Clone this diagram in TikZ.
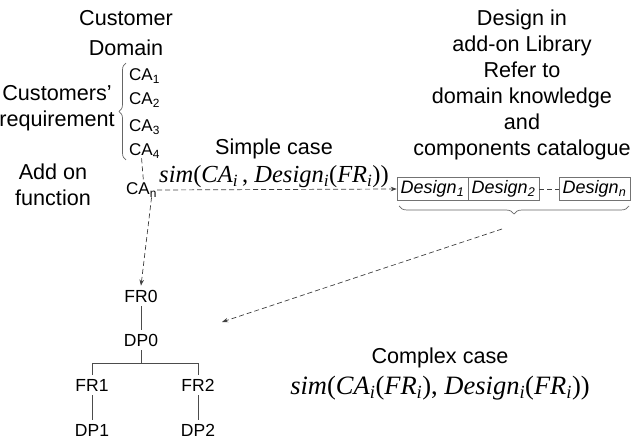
\documentclass[tikz,border=0pt]{standalone}
\usepackage{fontspec}
\setmainfont{Liberation Sans}
\newfontfamily\tms{Liberation Serif}
\usetikzlibrary{arrows.meta,decorations.pathreplacing}
\begin{document}
\begin{tikzpicture}[x=1pt,y=-1pt,
  big/.style={font=\fontsize{21.6}{26}\selectfont, align=center, inner sep=0pt},
  ca/.style={font=\fontsize{17}{20}\selectfont, inner sep=0pt, anchor=west},
  tree/.style={font=\fontsize{17.5}{20}\selectfont, inner sep=4pt},
  frm/.style={font=\tms\fontsize{24.5}{26}\selectfont, inner sep=0pt},
  dbox/.style={draw=black!55, line width=0.6pt, minimum height=23pt, minimum width=71pt, inner sep=0pt, font=\itshape\fontsize{18}{20}\selectfont},
  tline/.style={draw=black!70, line width=0.7pt},
  dline/.style={draw=black!75, line width=0.7pt, dash pattern=on 5pt off 3pt},
  arr/.style={-{Stealth[length=6pt,width=4.5pt]}},
  brc/.style={draw=black!60, line width=0.7pt, decorate}
]
\useasboundingbox (0,0) rectangle (637,443);

% left column
\node[big, font=\fontsize{21.6}{30}\selectfont] (cust) at (126,33) {Customer\\Domain};
\node[big] (req) at (57,108) {Customers'\\requirement};
\node[big] (add) at (53,185) {Add on\\function};

\node[ca] (ca1) at (129,76) {CA\textsubscript{1}};
\node[ca] (ca2) at (129,100) {CA\textsubscript{2}};
\node[ca] (ca3) at (129,127) {CA\textsubscript{3}};
\node[ca] (ca4) at (129,151) {CA\textsubscript{4}};
\node[ca] (can) at (126,190) {CA\textsubscript{n}};

\draw[brc, decoration={brace, amplitude=7pt}] (126,160) -- (126,63);

% right column
\node[big] (lib) at (522,85) {Design in\\add-on Library\\Refer to\\domain knowledge\\and\\components catalogue};

\node[dbox] (d1) at (432.5,189) {Design\textsubscript{1}};
\node[dbox] (d2) at (503.5,189) {Design\textsubscript{2}};
\node[dbox] (dn) at (594.5,189) {Design\textsubscript{n}};
\draw[dline] (d2.east) -- (dn.west);
\draw[brc, decoration={brace, amplitude=8pt}] (629,206) -- (399,206);

% simple case
\node[big] (simple) at (274,149) {Simple case};
\node[frm] (sf) at (274,177) {\textit{sim}(\textit{CA}\textsubscript{\textit{i}}\,, \textit{Design}\textsubscript{\textit{i}}(\textit{FR}\textsubscript{\textit{i}}))};

% complex case
\node[big] (complex) at (440,358) {Complex case};
\node[frm, font=\tms\fontsize{26.5}{28}\selectfont] (cf) at (440,388) {\textit{sim}(\textit{CA}\textsubscript{\textit{i}}(\textit{FR}\textsubscript{\textit{i}}), \textit{Design}\textsubscript{\textit{i}}(\textit{FR}\textsubscript{\textit{i}}))};

% tree
\node[tree] (fr0) at (141,296) {FR0};
\node[tree] (dp0) at (141,340) {DP0};
\node[tree] (fr1) at (92,385) {FR1};
\node[tree] (fr2) at (198,385) {FR2};
\node[tree] (dp1) at (92,430) {DP1};
\node[tree] (dp2) at (198,430) {DP2};
\coordinate (bar) at (141,363);
\draw[tline] (fr0) -- (dp0);
\draw[tline] (dp0.south) -- (bar);
\draw[tline] (fr1.north) -- (fr1.north |- bar) -- (fr2.north |- bar) -- (fr2.north);
\draw[tline] (fr1) -- (dp1);
\draw[tline] (fr2) -- (dp2);

% connectors
\draw[dline] ([xshift=-3pt]ca4.south) -- ([xshift=2pt]can.north);
\draw[dline, arr] (can.east) -- (d1.west);
\draw[dline, arr] ([xshift=10pt]can.south) -- (fr0.north);
\coordinate (bt) at (502,229);
\coordinate (ct) at (222,322);
\draw[dline, arr] (bt) -- (ct);
\end{tikzpicture}
\end{document}
